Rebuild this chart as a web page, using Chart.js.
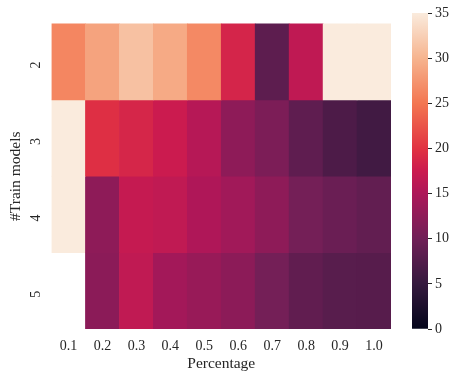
<!DOCTYPE html>
<html>
<head>
<meta charset="utf-8">
<script src="https://cdn.jsdelivr.net/npm/chart.js@4.4.1/dist/chart.umd.min.js"></script>
<style>
  body { margin: 0; background: #fff; }
  #wrap { position: relative; width: 462px; height: 381px; }
  #heat { position: absolute; left: 0; top: 0; }
  #cbar { position: absolute; left: 395px; top: 0; }
</style>
</head>
<body>
<div id="wrap">
  <canvas id="heat" width="400" height="381"></canvas>
  <canvas id="cbar" width="67" height="381"></canvas>
</div>
<script>
// columns (x) and rows (y)
var percentages = ["0.1", "0.2", "0.3", "0.4", "0.5", "0.6", "0.7", "0.8", "0.9", "1.0"];
var trainModels = ["2", "3", "4", "5"];

// cell values per row, null = missing
var row2 = [26.3, 28.6, 31.2, 29.2, 26.5, 18.5, 8.4, 16.5, 36, 36];
var row3 = [36, 19.6, 18.6, 17.5, 15.8, 12.5, 11.0, 8.6, 7.0, 6.0];
var row4 = [36, 12.5, 17.0, 16.6, 15.2, 14.0, 12.5, 10.3, 9.5, 8.8];
var row5 = [null, 12.2, 16.6, 14.2, 13.3, 12.3, 10.3, 8.7, 8.0, 7.9];

var vmin = 0, vmax = 35;
var cbarTicks = [0, 5, 10, 15, 20, 25, 30, 35];

// rocket colormap key points
var rocketStops = [
  [0.0, "#03051a"],
  [0.143, "#35193e"],
  [0.286, "#701f57"],
  [0.429, "#ad1759"],
  [0.5, "#cb1b4f"],
  [0.571, "#e13342"],
  [0.714, "#f37651"],
  [0.857, "#f6b48f"],
  [1.0, "#faebdd"]
];

function hexToRgb(h) {
  return [parseInt(h.substr(1, 2), 16), parseInt(h.substr(3, 2), 16), parseInt(h.substr(5, 2), 16)];
}

function rocket(v) {
  var t = (v - vmin) / (vmax - vmin);
  if (t < 0) t = 0;
  if (t > 1) t = 1;
  for (var i = 1; i < rocketStops.length; i++) {
    if (t <= rocketStops[i][0]) {
      var a = rocketStops[i - 1], b = rocketStops[i];
      var f = (t - a[0]) / (b[0] - a[0]);
      var ca = hexToRgb(a[1]), cb = hexToRgb(b[1]);
      var c = [0, 1, 2].map(function(k) { return Math.round(ca[k] + (cb[k] - ca[k]) * f); });
      return "rgb(" + c.join(",") + ")";
    }
  }
  return rocketStops[rocketStops.length - 1][1];
}

var font = { family: "'Liberation Serif', 'DejaVu Serif', serif", size: 14 };
var titleFont = { family: font.family, size: 15.5 };
var textColor = "#262626";

var rows = [row2, row3, row4, row5];
var datasets = rows.map(function(vals, r) {
  return {
    label: trainModels[r],
    data: vals.map(function(v) { return v === null ? null : [r, r + 1]; }),
    backgroundColor: vals.map(function(v) { return v === null ? "rgba(0,0,0,0)" : rocket(v); }),
    borderWidth: 0,
    grouped: false,
    categoryPercentage: 1,
    barPercentage: 1
  };
});

new Chart(document.getElementById("heat"), {
  type: "bar",
  data: { labels: percentages, datasets: datasets },
  options: {
    responsive: false,
    animation: false,
    layout: { padding: { left: 0, right: 9, top: 13, bottom: 0 } },
    plugins: { legend: { display: false }, tooltip: { enabled: false } },
    scales: {
      x: {
        grid: { display: false, drawTicks: false },
        border: { display: false },
        ticks: { font: font, color: textColor, padding: 9, maxRotation: 0 },
        title: { display: true, text: "Percentage", font: titleFont, color: textColor, padding: { top: 0, bottom: 8 } },
        afterFit: function(s) { s.height = 52; }
      },
      y: {
        type: "linear",
        min: 0,
        max: 4,
        reverse: true,
        grid: { display: false, drawTicks: false },
        border: { display: false },
        afterBuildTicks: function(s) {
          s.ticks = [0.5, 1.5, 2.5, 3.5].map(function(v) { return { value: v }; });
        },
        ticks: {
          font: font, color: textColor, padding: 15, minRotation: 90, maxRotation: 90,
          callback: function(v) { return trainModels[Math.floor(v)]; }
        },
        title: { display: true, text: "#Train models", font: titleFont, color: textColor, padding: { top: 7, bottom: 0 } },
        afterFit: function(s) { s.width = 51.5; }
      }
    }
  }
});

// colorbar
new Chart(document.getElementById("cbar"), {
  type: "bar",
  data: {
    labels: [""],
    datasets: [{
      data: [[vmin, vmax]],
      borderWidth: 0,
      categoryPercentage: 1,
      barPercentage: 1,
      backgroundColor: function(ctx) {
        var chart = ctx.chart, area = chart.chartArea;
        if (!area) return null;
        var ys = chart.scales.y;
        var g = chart.ctx.createLinearGradient(0, ys.getPixelForValue(vmin), 0, ys.getPixelForValue(vmax));
        rocketStops.forEach(function(s) { g.addColorStop(s[0], s[1]); });
        return g;
      }
    }]
  },
  options: {
    responsive: false,
    animation: false,
    layout: { padding: { left: 17, right: 0, top: 13, bottom: 52 } },
    plugins: { legend: { display: false }, tooltip: { enabled: false } },
    scales: {
      x: { display: false },
      y: {
        position: "right",
        min: vmin,
        max: vmax,
        afterBuildTicks: function(s) {
          s.ticks = cbarTicks.map(function(v) { return { value: v }; });
        },
        grid: { drawOnChartArea: false, drawTicks: true, tickLength: 4, color: "#262626", lineWidth: 1 },
        border: { display: false },
        ticks: { font: font, color: textColor, padding: 3 },
        afterFit: function(s) { s.width = 34; }
      }
    }
  }
});
</script>
</body>
</html>
